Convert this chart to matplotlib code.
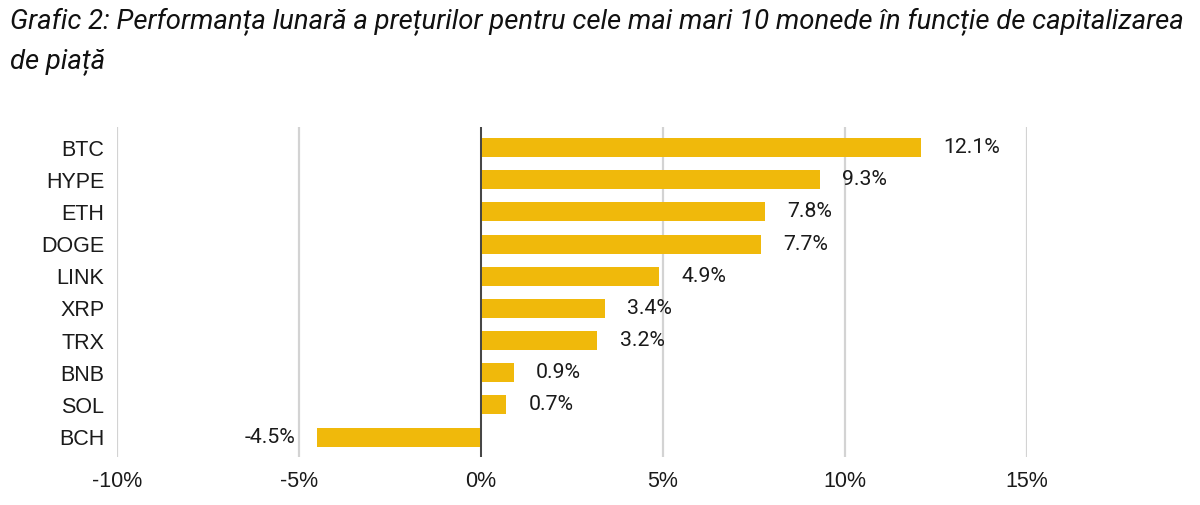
import matplotlib
matplotlib.use("Agg")
import matplotlib.pyplot as plt
from matplotlib.ticker import FuncFormatter

title = "Grafic 2: Performanța lunară a prețurilor pentru cele mai mari 10 monede în funcție de capitalizarea\nde piață"
coins = ["BTC", "HYPE", "ETH", "DOGE", "LINK", "XRP", "TRX", "BNB", "SOL", "BCH"]
changes = [12.1, 9.3, 7.8, 7.7, 4.9, 3.4, 3.2, 0.9, 0.7, -4.5]
xticks = [-10, -5, 0, 5, 10, 15]

bar_color = "#F0B90B"

fig = plt.figure(figsize=(12, 5.05), dpi=100)
ax = fig.add_axes([117/1200, 1-457/505, (1027-117)/1200, (457-127)/505])

y = list(range(len(coins)))
ax.barh(y, changes, height=0.59, color=bar_color, zorder=3)
ax.set_ylim(len(coins) - 1 + 0.62, -0.64)
ax.set_xlim(-10, 15)
ax.set_xticks(xticks)
ax.xaxis.set_major_formatter(FuncFormatter(lambda v, p: f"{v:.0f}%"))
ax.set_yticks(y)
ax.set_yticklabels(coins)
for lab in ax.get_xticklabels() + ax.get_yticklabels():
    lab.set_fontfamily("Liberation Sans")
    lab.set_fontsize(15.5)
    lab.set_color("#1a1a1a")
ax.tick_params(axis="both", length=0)
ax.tick_params(axis="y", pad=9)
ax.tick_params(axis="x", pad=10)
for s in ax.spines.values():
    s.set_visible(False)
ax.grid(axis="x", color="#d3d3d3", linewidth=1.6, zorder=0)
ax.axvline(0, color="#444444", linewidth=1.4, zorder=4)

for yi, v in zip(y, changes):
    if v >= 0:
        ax.annotate(f"{v:.1f}%", (v, yi), xytext=(16, 0), textcoords="offset points",
                    ha="left", va="center", fontsize=15.3, family="Roboto", color="#1a1a1a")
    else:
        ax.annotate(f"{v:.1f}%", (v, yi), xytext=(-16, 0), textcoords="offset points",
                    ha="right", va="center", fontsize=15.3, family="Roboto", color="#1a1a1a")

fig.text(10/1200, 1-8/505, title, ha="left", va="top", fontsize=19.8,
         family="Roboto", style="italic", color="#111111", linespacing=1.62)

fig.savefig("out.png", dpi=100, facecolor="white")
